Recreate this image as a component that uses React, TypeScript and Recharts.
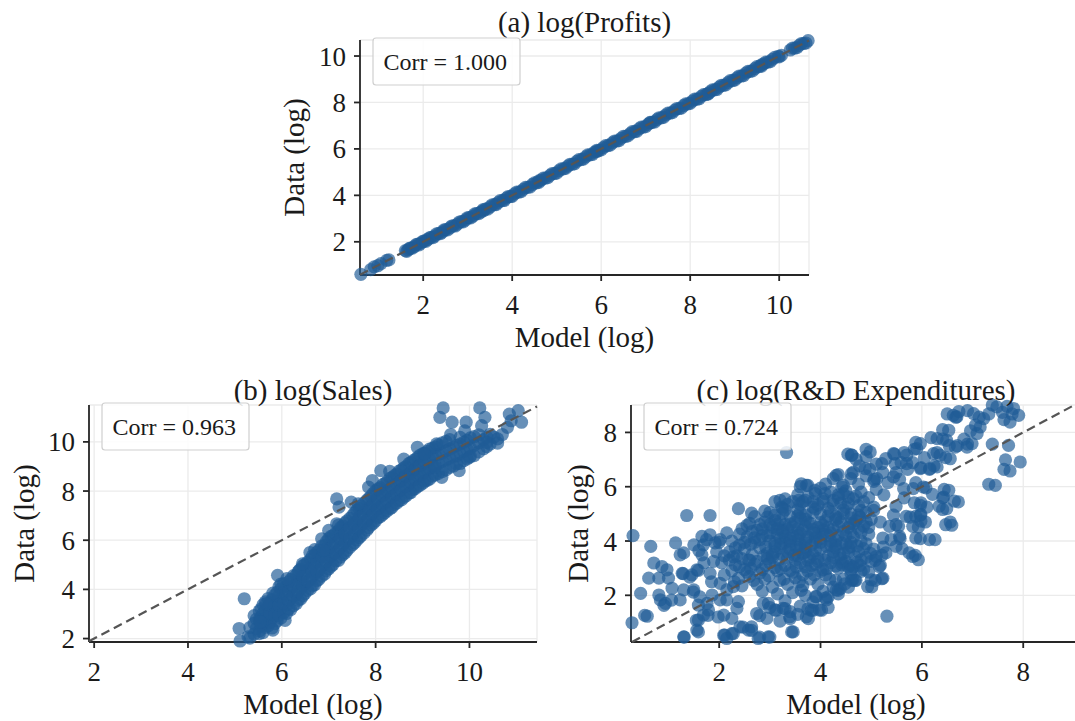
import { ScatterChart, Scatter, XAxis, YAxis, CartesianGrid } from 'recharts';

const FONT = "'Liberation Serif', 'Times New Roman', Times, serif";
const DOT = '#1f5b96';

// (a) log(Profits): model vs data, almost exactly on the 45 degree line
const profitsPoints: [number, number][] = [
  [0.6, 0.6], [0.82, 0.8], [0.9, 0.92], [0.98, 0.97], [1.05, 1.06], [1.18, 1.2], [1.23, 1.22],
  [1.6, 1.62], [1.66, 1.65], [1.72, 1.73], [1.8, 1.79], [1.88, 1.9], [1.95, 1.94], [2.03, 2.04],
  [2.1, 2.1], [2.18, 2.19], [2.26, 2.25], [2.35, 2.36], [2.43, 2.42], [2.5, 2.51], [2.6, 2.6],
  [2.68, 2.69], [2.77, 2.76], [2.86, 2.87], [2.95, 2.94], [3.03, 3.04], [3.12, 3.11], [3.2, 3.21],
  [3.3, 3.29], [3.4, 3.41], [3.5, 3.5], [3.6, 3.6], [3.68, 3.69], [3.78, 3.77], [3.87, 3.88],
  [3.96, 3.95], [4.05, 4.06], [4.15, 4.14], [4.25, 4.26], [4.35, 4.34], [4.45, 4.46], [4.55, 4.54],
  [4.65, 4.66], [4.75, 4.74], [4.85, 4.86], [4.95, 4.94], [5.05, 5.06], [5.15, 5.14], [5.25, 5.26],
  [5.35, 5.34], [5.45, 5.46], [5.55, 5.54], [5.65, 5.66], [5.75, 5.74], [5.85, 5.86], [5.95, 5.94],
  [6.05, 6.06], [6.15, 6.14], [6.25, 6.26], [6.35, 6.34], [6.45, 6.46], [6.55, 6.54], [6.65, 6.66],
  [6.75, 6.74], [6.85, 6.86], [6.95, 6.94], [7.05, 7.06], [7.15, 7.14], [7.25, 7.26], [7.35, 7.34],
  [7.45, 7.46], [7.55, 7.54], [7.65, 7.66], [7.75, 7.74], [7.85, 7.86], [7.95, 7.94], [8.05, 8.06],
  [8.15, 8.14], [8.25, 8.26], [8.35, 8.34], [8.45, 8.46], [8.55, 8.54], [8.65, 8.66], [8.75, 8.74],
  [8.85, 8.86], [8.95, 8.94], [9.05, 9.06], [9.15, 9.14], [9.25, 9.26], [9.35, 9.34], [9.45, 9.46],
  [9.55, 9.54], [9.65, 9.66], [9.75, 9.74], [9.85, 9.86], [9.98, 9.99], [10.05, 10.03],
  [10.25, 10.26], [10.35, 10.34], [10.45, 10.46], [10.55, 10.54], [10.65, 10.66],
  [2.14, 2.17], [3.35, 3.33], [4.6, 4.62], [5.9, 5.88], [7.1, 7.12], [8.4, 8.38], [9.6, 9.62],
  [1.63, 1.59], [1.69, 1.72], [1.76, 1.73], [1.84, 1.88], [1.91, 1.87], [1.99, 2.02], [2.06, 2.02],
  [2.22, 2.18], [2.3, 2.34], [2.39, 2.35], [2.47, 2.51], [2.55, 2.51], [2.64, 2.68], [2.72, 2.68],
  [2.81, 2.85], [2.9, 2.86], [2.99, 3.03], [3.07, 3.03], [3.16, 3.2], [3.25, 3.21], [3.35, 3.39],
  [3.45, 3.41], [3.55, 3.59], [3.64, 3.6], [3.73, 3.77], [3.82, 3.78], [3.91, 3.95], [4.0, 3.96],
  [4.1, 4.14], [4.2, 4.16], [4.3, 4.34], [4.4, 4.36], [4.5, 4.54], [4.6, 4.56], [4.7, 4.74],
  [4.8, 4.76], [4.9, 4.94], [5.0, 4.96], [5.1, 5.14], [5.2, 5.16], [5.3, 5.34], [5.4, 5.36],
  [5.5, 5.54], [5.6, 5.56], [5.7, 5.74], [5.8, 5.76], [5.9, 5.94], [6.0, 5.96], [6.1, 6.14],
  [6.2, 6.16], [6.3, 6.34], [6.4, 6.36], [6.5, 6.54], [6.6, 6.56], [6.7, 6.74], [6.8, 6.76],
  [6.9, 6.94], [7.0, 6.96], [7.1, 7.14], [7.2, 7.16], [7.3, 7.34], [7.4, 7.36], [7.5, 7.54],
  [7.6, 7.56], [7.7, 7.74], [7.8, 7.76], [7.9, 7.94], [8.0, 7.96], [8.1, 8.14], [8.2, 8.16],
  [8.3, 8.34], [8.4, 8.36], [8.5, 8.54], [8.6, 8.56], [8.7, 8.74], [8.8, 8.76], [8.9, 8.94],
  [9.0, 8.96], [9.1, 9.14], [9.2, 9.16], [9.3, 9.34], [9.4, 9.36], [9.5, 9.54], [9.6, 9.56],
  [9.7, 9.74], [9.8, 9.76], [9.9, 9.94], [10.0, 9.96], [10.3, 10.34], [10.4, 10.36],
  [10.5, 10.54], [10.6, 10.56],
];

// (b) log(Sales)
const salesPoints: [number, number][] = [
  [5.32, 2.02], [5.32, 2.45], [5.41, 2.18], [5.41, 2.62], [5.41, 2.93], [5.52, 2.31], [5.52, 2.77],
  [5.52, 3.12], [5.6, 2.24], [5.6, 2.63], [5.6, 3.02], [5.6, 3.38], [5.71, 2.52], [5.71, 2.88],
  [5.71, 3.33], [5.71, 3.63], [5.79, 2.43], [5.79, 2.83], [5.79, 3.17], [5.79, 3.57], [5.9, 2.72],
  [5.9, 3.08], [5.9, 3.52], [5.9, 3.88], [5.98, 2.83], [5.98, 3.22], [5.98, 3.61], [5.98, 4.02],
  [5.98, 4.22], [6.1, 3.02], [6.1, 3.37], [6.1, 3.76], [6.1, 4.13], [6.19, 3.18], [6.19, 3.62],
  [6.19, 4.03], [6.19, 4.41], [6.31, 3.42], [6.31, 3.79], [6.31, 4.22], [6.31, 4.58], [6.4, 3.61],
  [6.4, 4.02], [6.4, 4.38], [6.4, 4.82], [6.49, 3.83], [6.49, 4.21], [6.49, 4.62], [6.49, 5.01],
  [6.61, 4.02], [6.61, 4.41], [6.61, 4.79], [6.61, 5.22], [6.7, 4.19], [6.7, 4.62], [6.7, 5.03],
  [6.7, 5.38], [6.7, 5.62], [6.79, 4.41], [6.79, 4.78], [6.79, 5.21], [6.79, 5.59], [6.91, 4.62],
  [6.91, 5.02], [6.91, 5.41], [6.91, 5.78], [7.0, 4.84], [7.0, 5.26], [7.0, 5.63], [7.0, 6.07],
  [7.09, 5.01], [7.09, 5.42], [7.09, 5.81], [7.09, 6.19], [7.21, 5.18], [7.21, 5.61], [7.21, 6.02],
  [7.21, 6.38], [7.21, 6.62], [7.3, 5.42], [7.3, 5.79], [7.3, 6.21], [7.3, 6.58], [7.39, 5.59],
  [7.39, 6.02], [7.39, 6.41], [7.39, 6.79], [7.51, 5.82], [7.51, 6.19], [7.51, 6.62], [7.51, 7.01],
  [7.6, 6.01], [7.6, 6.42], [7.6, 6.79], [7.6, 7.22], [7.69, 6.18], [7.69, 6.61], [7.69, 7.02],
  [7.69, 7.39], [7.81, 6.41], [7.81, 6.79], [7.81, 7.21], [7.81, 7.62], [7.9, 6.62], [7.9, 7.01],
  [7.9, 7.38], [7.9, 7.79], [8.0, 6.79], [8.0, 7.22], [8.0, 7.61], [8.0, 8.02], [8.1, 6.96],
  [8.1, 7.34], [8.1, 7.77], [8.1, 8.14], [8.2, 7.12], [8.2, 7.51], [8.2, 7.89], [8.2, 8.31],
  [8.31, 7.29], [8.31, 7.71], [8.31, 8.09], [8.31, 8.52], [8.4, 7.46], [8.4, 7.84], [8.4, 8.26],
  [8.4, 8.63], [8.5, 7.61], [8.5, 8.02], [8.5, 8.39], [8.5, 8.81], [8.6, 7.74], [8.6, 8.16],
  [8.6, 8.57], [8.6, 8.94], [8.71, 7.91], [8.71, 8.29], [8.71, 8.71], [8.71, 9.12], [8.8, 8.06],
  [8.8, 8.47], [8.8, 8.84], [8.8, 9.24], [8.9, 8.19], [8.9, 8.61], [8.9, 9.02], [8.9, 9.38],
  [9.01, 8.32], [9.01, 8.69], [9.01, 9.11], [9.01, 9.52], [9.1, 8.44], [9.1, 8.86], [9.1, 9.24],
  [9.1, 9.61], [9.21, 8.61], [9.21, 9.02], [9.21, 9.41], [9.21, 9.74], [9.34, 8.72], [9.34, 9.12],
  [9.34, 9.49], [9.34, 9.88], [9.5, 8.86], [9.5, 9.26], [9.5, 9.64], [9.5, 10.02], [9.66, 9.02],
  [9.66, 9.41], [9.66, 9.79], [9.8, 9.12], [9.8, 9.52], [9.8, 9.91], [9.8, 10.18], [9.95, 9.31],
  [9.95, 9.69], [9.95, 10.06], [10.1, 9.44], [10.1, 9.86], [10.1, 10.21], [10.3, 9.72],
  [10.3, 10.09], [10.44, 9.91], [10.44, 10.31], [10.6, 10.12],
  // second pass over the dense band
  [5.46, 2.41], [5.46, 2.79], [5.56, 2.52], [5.56, 2.88], [5.56, 3.21], [5.65, 2.46], [5.65, 2.81],
  [5.65, 3.16], [5.65, 3.49], [5.75, 2.66], [5.75, 3.04], [5.75, 3.46], [5.85, 2.61], [5.85, 2.96],
  [5.85, 3.34], [5.85, 3.76], [5.94, 2.94], [5.94, 3.36], [5.94, 3.74], [5.94, 4.11], [6.04, 3.06],
  [6.04, 3.44], [6.04, 3.86], [6.04, 4.24], [6.15, 3.21], [6.15, 3.56], [6.15, 3.94], [6.15, 4.31],
  [6.25, 3.34], [6.25, 3.76], [6.25, 4.14], [6.25, 4.56], [6.35, 3.56], [6.35, 3.94], [6.35, 4.36],
  [6.35, 4.71], [6.45, 3.74], [6.45, 4.16], [6.45, 4.54], [6.45, 4.96], [6.55, 3.96], [6.55, 4.34],
  [6.55, 4.76], [6.55, 5.11], [6.65, 4.14], [6.65, 4.56], [6.65, 4.94], [6.65, 5.36], [6.75, 4.36],
  [6.75, 4.74], [6.75, 5.16], [6.75, 5.51], [6.85, 4.54], [6.85, 4.96], [6.85, 5.34], [6.85, 5.76],
  [6.95, 4.76], [6.95, 5.14], [6.95, 5.56], [6.95, 5.94], [7.05, 4.94], [7.05, 5.36], [7.05, 5.74],
  [7.05, 6.16], [7.15, 5.16], [7.15, 5.49], [7.15, 5.91], [7.15, 6.29], [7.25, 5.31], [7.25, 5.71],
  [7.25, 6.09], [7.25, 6.51], [7.35, 5.49], [7.35, 5.91], [7.35, 6.29], [7.35, 6.71], [7.45, 5.71],
  [7.45, 6.09], [7.45, 6.51], [7.45, 6.89], [7.55, 5.89], [7.55, 6.31], [7.55, 6.69], [7.55, 7.11],
  [7.65, 6.11], [7.65, 6.49], [7.65, 6.91], [7.65, 7.29], [7.75, 6.29], [7.75, 6.71], [7.75, 7.09],
  [7.75, 7.51], [7.85, 6.51], [7.85, 6.89], [7.85, 7.31], [7.85, 7.69], [7.95, 6.69], [7.95, 7.11],
  [7.95, 7.49], [7.95, 7.91], [8.05, 6.91], [8.05, 7.29], [8.05, 7.71], [8.05, 8.09], [8.15, 7.04],
  [8.15, 7.46], [8.15, 7.84], [8.15, 8.26], [8.25, 7.21], [8.25, 7.59], [8.25, 8.01], [8.25, 8.39],
  [8.35, 7.34], [8.35, 7.76], [8.35, 8.14], [8.35, 8.56], [8.45, 7.51], [8.45, 7.89], [8.45, 8.31],
  [8.45, 8.69], [8.55, 7.64], [8.55, 8.06], [8.55, 8.44], [8.55, 8.86], [8.65, 7.81], [8.65, 8.19],
  [8.65, 8.61], [8.65, 8.99], [8.75, 7.94], [8.75, 8.36], [8.75, 8.74], [8.75, 9.16], [8.85, 8.11],
  [8.85, 8.49], [8.85, 8.91], [8.85, 9.29], [8.95, 8.24], [8.95, 8.66], [8.95, 9.04], [8.95, 9.46],
  [9.05, 8.41], [9.05, 8.79], [9.05, 9.21], [9.05, 9.54], [9.15, 8.49], [9.15, 8.91], [9.15, 9.29],
  [9.15, 9.71], [9.27, 8.66], [9.27, 9.04], [9.27, 9.46], [9.27, 9.79], [9.42, 8.79], [9.42, 9.21],
  [9.42, 9.54], [9.42, 9.96], [9.58, 8.96], [9.58, 9.34], [9.58, 9.71], [9.58, 10.09], [9.73, 9.11],
  [9.73, 9.44], [9.73, 9.86], [9.88, 9.24], [9.88, 9.61], [9.88, 9.99], [10.02, 9.41], [10.02, 9.74],
  [10.02, 10.16], [10.2, 9.59], [10.2, 9.96], [10.2, 10.29], [10.37, 9.81], [10.37, 10.19],
  // scattered points around the band
  [5.11, 1.9], [5.28, 2.07], [5.09, 2.41], [5.2, 3.62], [5.52, 2.2], [5.54, 2.68], [5.67, 3.42],
  [5.81, 3.85], [5.91, 4.57], [5.81, 2.34], [6.07, 2.74], [6.11, 4.44], [6.37, 4.77], [6.44, 5.04],
  [6.85, 6.06], [6.89, 5.59], [7.17, 7.68], [7.22, 7.35], [7.17, 6.67], [7.48, 7.55], [7.63, 7.48],
  [7.85, 8.16], [8.11, 8.83], [7.93, 8.43], [8.89, 9.78], [9.04, 9.51], [9.3, 9.92], [9.37, 11.0],
  [9.44, 11.38], [9.63, 10.8], [9.93, 10.8], [10.22, 11.38], [10.33, 11.0], [10.26, 10.66],
  [10.52, 10.19], [10.37, 9.98], [10.81, 10.59], [10.89, 10.86], [11.04, 11.27], [11.11, 10.8],
  [10.85, 11.13], [10.0, 9.37], [9.78, 8.83], [9.41, 8.56], [9.26, 8.97], [10.6, 9.95],
  [10.7, 10.3], [9.9, 10.45], [9.6, 10.3], [8.6, 9.3], [8.3, 8.8], [7.0, 6.4], [6.6, 5.5],
];

// (c) log(R&D Expenditures)
const rndPoints: [number, number][] = [
  // upper right
  [7.39, 9.01], [7.68, 8.96], [7.59, 8.74], [7.78, 8.68], [7.32, 8.68], [6.9, 8.8], [6.73, 8.77],
  [6.5, 8.68], [6.67, 8.56], [7.13, 8.56], [7.62, 8.47], [7.06, 8.27], [6.96, 8.06], [6.41, 8.1],
  [6.18, 7.81], [6.41, 7.75], [6.83, 7.75], [6.9, 7.57], [7.39, 7.57], [6.7, 7.51], [6.54, 7.51],
  [6.3, 7.26], [6.47, 7.07], [6.05, 7.07], [7.65, 6.99], [7.62, 6.64], [7.32, 6.09],
  [6.62, 8.63], [6.69, 8.57], [7.02, 8.69], [7.22, 8.51], [7.48, 8.94], [7.81, 8.88], [7.91, 8.63],
  [7.74, 8.38], [7.15, 8.2], [7.09, 7.96], [6.99, 7.59], [6.89, 7.46], [6.53, 8.08], [6.3, 7.77],
  [6.49, 7.71], [6.66, 7.46], [5.97, 7.59], [5.9, 7.4], [6.23, 7.22], [6.36, 7.16], [6.56, 7.03],
  [7.71, 7.52], [7.94, 6.91], [7.74, 6.58], [7.45, 6.05],
  // middle right
  [5.88, 7.63], [5.85, 7.38], [5.65, 7.26], [5.46, 7.2], [5.29, 7.04], [5.59, 6.89], [5.82, 6.89],
  [5.98, 6.7], [6.15, 6.64], [6.24, 6.77], [5.72, 6.64], [5.49, 6.52], [5.23, 6.52], [5.1, 6.83],
  [4.9, 7.38], [4.9, 7.11], [4.7, 7.01], [4.54, 7.2], [4.77, 6.77], [4.97, 6.64], [5.06, 6.27],
  [5.33, 6.15], [5.56, 6.27], [5.88, 6.15], [6.08, 5.96], [6.21, 5.72], [6.41, 5.59], [6.44, 5.9],
  [6.64, 5.47], [6.34, 5.28], [6.41, 5.16], [6.47, 4.6], [6.15, 4.05], [5.88, 4.11], [5.82, 3.43],
  [5.75, 3.56], [5.98, 5.41], [5.85, 5.41], [5.98, 4.98], [5.88, 4.91], [5.82, 4.54], [5.98, 4.73],
  [5.69, 4.91], [5.65, 5.59], [5.49, 5.28], [5.49, 4.6], [5.56, 4.17], [5.49, 3.8], [5.36, 4.54],
  [5.39, 4.05], [5.23, 4.11], [5.29, 3.56], [5.1, 3.43], [5.0, 3.25], [5.16, 3.06], [5.23, 2.63],
  [5.0, 2.57], [4.93, 2.32], [4.8, 2.88], [4.64, 2.57], [4.44, 3.19], [4.31, 2.2],
  [4.62, 7.16], [4.98, 7.28], [5.44, 7.22], [5.7, 7.16], [5.21, 6.85], [5.47, 6.85], [5.7, 6.85],
  [5.97, 6.67], [6.16, 6.67], [6.3, 6.73], [4.65, 6.54], [4.88, 6.67], [5.11, 6.3], [5.44, 6.36],
  [5.64, 5.93], [5.83, 5.93], [6.03, 5.99], [6.53, 5.87], [6.43, 5.62], [6.72, 5.44], [6.49, 5.19],
  [5.97, 5.31], [6.1, 5.25], [5.77, 4.88], [5.97, 4.95], [5.44, 4.95], [5.05, 5.13], [4.78, 4.88],
  [6.56, 4.7], [4.45, 5.75], [4.59, 4.64], [5.18, 4.7], [5.54, 4.54], [5.93, 4.52], [6.07, 4.7],
  [6.59, 4.58], [5.97, 4.09], [6.26, 4.05], [5.57, 4.09], [5.61, 3.72], [5.24, 3.78], [5.87, 3.47],
  [5.93, 3.31], [5.21, 3.47], [5.18, 3.1], [5.08, 3.29], [4.78, 3.1], [4.59, 3.1], [4.95, 2.86],
  [5.21, 2.61], [5.08, 2.55], [4.68, 2.55], [5.01, 2.31], [4.39, 2.25], [5.31, 1.23],
  // lower middle
  [4.12, 1.83], [3.98, 1.46], [3.92, 1.95], [3.72, 1.21], [3.43, 0.65], [3.39, 1.21], [3.26, 1.52],
  [3.1, 1.46], [2.97, 1.7], [2.87, 1.7], [2.74, 1.33], [2.94, 1.15], [2.97, 0.47], [2.77, 0.41],
  [2.58, 0.72], [2.64, 0.84], [2.41, 0.84], [2.25, 0.59], [2.15, 0.41], [2.09, 0.53], [2.25, 1.15],
  [2.09, 1.27], [2.35, 1.52], [2.38, 1.77], [2.15, 1.83], [2.02, 1.83], [3.46, 0.65], [3.4, 1.14],
  [3.76, 1.14], [3.82, 1.45], [4.02, 1.45], [3.62, 2.18], [4.15, 1.94], [4.35, 2.18], [4.55, 3.04],
  [4.61, 2.55], [3.13, 1.45], [3.3, 1.51], [2.47, 0.83], [2.64, 0.71], [2.8, 0.46], [3.0, 0.46],
  [2.11, 0.53], [2.28, 0.59], [3.4, 1.4], [3.6, 1.6], [3.55, 1.3], [3.75, 1.5], [3.3, 1.8],
  [3.0, 1.55], [2.8, 1.25], [3.85, 1.75], [4.1, 1.9], [4.35, 2.05], [4.55, 2.3], [4.7, 2.55],
  [4.15, 1.55], [3.2, 1.05], [3.85, 1.45],
  // left side
  [1.86, 2.01], [1.76, 1.7], [1.79, 1.46], [1.69, 1.27], [1.59, 1.09], [1.56, 0.72], [1.3, 0.47],
  [1.59, 1.64], [1.5, 2.2], [1.3, 2.2], [1.23, 1.83], [1.07, 2.26], [0.94, 1.7], [0.84, 1.83],
  [0.81, 2.01], [0.58, 1.23], [0.28, 0.99], [0.45, 2.07], [0.61, 2.63], [0.81, 2.63], [0.71, 3.19],
  [0.87, 3.06], [0.97, 2.94], [1.0, 2.63], [1.27, 2.81], [1.3, 3.56], [1.14, 3.93], [1.23, 3.49],
  [1.46, 2.75], [1.5, 3.86], [1.56, 2.94], [1.66, 3.49], [1.69, 3.86], [1.66, 4.17], [1.82, 4.23],
  [1.92, 3.93], [2.02, 4.05], [1.89, 3.25], [1.82, 2.81], [2.02, 2.44], [2.15, 2.2], [2.28, 2.32],
  [0.3, 4.2], [0.65, 3.8], [1.36, 4.94], [1.82, 4.94], [2.38, 5.19], [2.64, 5.03], [3.33, 7.26],
  [0.53, 1.26], [0.91, 1.63], [1.06, 1.82], [1.29, 2.8], [1.42, 2.67], [1.59, 2.92], [1.49, 2.12],
  [1.62, 1.94], [1.55, 1.08], [1.59, 0.65], [1.31, 0.46], [1.78, 1.26], [1.98, 1.2],
  [1.95, 3.6], [2.05, 3.2], [2.1, 2.75], [1.7, 3.2], [1.85, 2.5], [2.15, 4.3], [2.0, 3.95],
  [1.75, 4.05], [1.6, 3.65], [2.1, 3.45],
  // upper middle
  [3.62, 6.11], [3.72, 6.05], [4.31, 6.42], [4.61, 7.16], [4.61, 6.48], [3.2, 5.5], [3.23, 5.25],
  [3.57, 5.5], [3.89, 5.87], [4.09, 5.75], [4.42, 5.99], [4.55, 5.62],
  // dense core
  [2.3, 2.5], [2.45, 2.35], [2.6, 2.7], [2.75, 2.4], [2.9, 2.6], [3.05, 2.3], [3.2, 2.55],
  [3.35, 2.4], [3.5, 2.65], [3.65, 2.35], [3.8, 2.6], [3.95, 2.4], [4.1, 2.75], [4.3, 2.55],
  [3.45, 2.1], [3.7, 2.0], [3.9, 1.95], [4.05, 2.15], [3.15, 2.05], [2.85, 2.15], [4.25, 2.3],
  [4.45, 2.6], [4.6, 2.8],
  [2.25, 2.9], [2.4, 3.05], [2.55, 2.85], [2.7, 3.15], [2.85, 2.95], [3.0, 3.2], [3.15, 2.9],
  [3.3, 3.1], [3.45, 2.85], [3.6, 3.2], [3.75, 2.9], [3.9, 3.15], [4.05, 2.95], [4.2, 3.2],
  [4.35, 3.0], [4.5, 3.25], [4.65, 3.05], [4.8, 3.3], [2.2, 3.3], [2.95, 3.35], [3.65, 2.75],
  [4.85, 2.95],
  [2.2, 3.6], [2.35, 3.45], [2.5, 3.7], [2.65, 3.5], [2.8, 3.75], [2.95, 3.55], [3.1, 3.8],
  [3.25, 3.5], [3.4, 3.7], [3.55, 3.45], [3.7, 3.75], [3.85, 3.5], [4.0, 3.7], [4.15, 3.45],
  [4.3, 3.75], [4.45, 3.55], [4.6, 3.8], [4.75, 3.6], [4.9, 3.4], [5.05, 3.7], [3.05, 3.4],
  [3.75, 3.3], [4.4, 3.35],
  [2.25, 4.0], [2.4, 3.85], [2.55, 4.15], [2.7, 3.95], [2.85, 4.2], [3.0, 4.0], [3.15, 4.25],
  [3.3, 3.95], [3.45, 4.2], [3.6, 3.9], [3.75, 4.15], [3.9, 3.95], [4.05, 4.25], [4.2, 4.0],
  [4.35, 4.2], [4.5, 3.9], [4.65, 4.15], [4.8, 4.0], [4.95, 4.25], [3.2, 4.1], [3.55, 4.05],
  [3.9, 4.3], [4.3, 3.85],
  [2.45, 4.45], [2.6, 4.65], [2.75, 4.4], [2.9, 4.7], [3.05, 4.5], [3.2, 4.75], [3.35, 4.45],
  [3.5, 4.7], [3.65, 4.4], [3.8, 4.65], [3.95, 4.5], [4.1, 4.75], [4.25, 4.45], [4.4, 4.7],
  [4.55, 4.5], [4.7, 4.75], [4.85, 4.55], [5.0, 4.8], [3.3, 4.6], [3.7, 4.55], [4.05, 4.4],
  [2.7, 4.9], [2.9, 5.1], [3.1, 4.95], [3.25, 5.2], [3.4, 4.9], [3.55, 5.15], [3.7, 4.95],
  [3.85, 5.25], [4.0, 5.0], [4.15, 5.2], [4.3, 4.9], [4.45, 5.15], [4.6, 5.0], [4.75, 5.3],
  [4.9, 5.05], [5.05, 5.25], [3.6, 5.35], [4.25, 5.35],
  [3.1, 5.45], [3.3, 5.55], [3.55, 5.7], [3.7, 5.5], [3.9, 5.75], [4.05, 5.55], [4.2, 5.8],
  [4.35, 5.6], [4.5, 5.85], [4.65, 5.55], [4.8, 5.8], [4.95, 5.6], [5.1, 5.9], [5.25, 5.7],
  [4.4, 5.4], [3.85, 5.45],
  [3.6, 6.0], [3.75, 6.05], [4.1, 6.1], [4.25, 6.3], [4.45, 6.05], [4.6, 6.3], [4.75, 6.1],
  [4.9, 6.4], [5.05, 6.2], [4.35, 6.45], [4.0, 5.95],
  // second pass over the core
  [2.38, 2.62], [2.68, 2.55], [2.98, 2.72], [3.28, 2.6], [3.58, 2.5], [3.88, 2.75], [4.18, 2.6],
  [4.48, 2.42], [2.32, 3.12], [2.62, 3.0], [2.92, 3.1], [3.22, 2.98], [3.52, 3.05], [3.82, 3.1],
  [4.12, 2.98], [4.42, 3.12], [4.72, 3.22], [2.28, 3.42], [2.58, 3.3], [2.88, 3.45], [3.18, 3.32],
  [3.48, 3.48], [3.78, 3.4], [4.08, 3.3], [4.38, 3.5], [4.68, 3.42], [4.98, 3.55], [2.32, 3.75],
  [2.62, 3.88], [2.92, 3.78], [3.22, 3.9], [3.52, 3.78], [3.82, 3.85], [4.12, 3.8], [4.42, 3.92],
  [4.72, 3.82], [2.4, 4.25], [2.7, 4.12], [3.0, 4.3], [3.3, 4.18], [3.6, 4.28], [3.9, 4.12],
  [4.2, 4.3], [4.5, 4.2], [4.8, 4.32], [2.55, 4.58], [2.85, 4.45], [3.15, 4.62], [3.45, 4.52],
  [3.75, 4.7], [4.05, 4.58], [4.35, 4.55], [4.65, 4.62], [4.95, 4.5], [2.95, 4.88], [3.25, 5.02],
  [3.55, 4.92], [3.85, 5.05], [4.15, 4.92], [4.45, 5.02], [4.75, 4.95], [3.35, 5.35], [3.65, 5.45],
  [3.95, 5.32], [4.25, 5.5], [4.55, 5.38], [4.85, 5.45], [3.1, 3.6], [3.4, 3.85], [3.7, 3.6],
  [4.0, 3.95], [3.25, 4.4], [3.55, 4.45], [3.85, 4.3], [4.15, 4.5], [3.4, 4.0], [3.7, 4.05],
  [3.5, 3.3], [3.95, 3.35], [4.25, 3.6], [4.55, 3.75], [3.0, 4.6], [3.2, 3.75], [3.6, 4.85],
  [4.35, 4.85],
  // third pass over the darkest part
  [2.5, 2.95], [2.8, 2.82], [3.1, 3.02], [3.4, 2.92], [3.7, 3.05], [4.0, 2.88], [4.3, 3.08],
  [4.6, 2.95], [2.45, 3.35], [2.75, 3.25], [3.05, 3.5], [3.35, 3.38], [3.65, 3.55], [3.95, 3.25],
  [4.25, 3.4], [4.55, 3.58], [4.85, 3.72], [2.5, 3.95], [2.8, 4.05], [3.1, 3.92], [3.4, 4.1],
  [3.7, 3.92], [4.0, 4.1], [4.3, 4.02], [4.6, 3.95], [4.9, 3.9], [2.65, 4.35], [2.95, 4.2],
  [3.25, 4.32], [3.55, 4.2], [3.85, 4.42], [4.15, 4.2], [4.45, 4.35], [4.75, 4.45], [2.8, 4.6],
  [3.1, 4.75], [3.4, 4.62], [3.7, 4.8], [4.0, 4.68], [4.3, 4.78], [4.6, 4.85], [4.9, 4.7],
  [3.0, 5.05], [3.3, 5.15], [3.6, 5.05], [3.9, 5.18], [4.2, 5.08], [4.5, 5.25], [4.8, 5.12],
  [3.45, 5.45], [3.75, 5.62], [4.05, 5.45], [4.35, 5.7], [4.7, 5.65], [2.6, 3.3], [3.9, 3.65],
  [4.2, 3.85], [3.35, 3.6], [3.6, 3.7], [3.15, 4.45], [4.6, 4.3],
];

const profitsTicks = [2, 4, 6, 8, 10];
const salesTicks = [2, 4, 6, 8, 10];
const rndTicks = [2, 4, 6, 8];

const titles = ['(a) log(Profits)', '(b) log(Sales)', '(c) log(R&D Expenditures)'];
const corrValues = ['1.000', '0.963', '0.724'];

type Box = { left: number; top: number; right: number; bottom: number };

type PanelCfg = {
  points: [number, number][];
  ticks: number[];
  xDomain: [number, number];
  yDomain: [number, number];
  plot: Box;
  yLabelX: number;
  title: string;
  corr: string;
  titleY: number;
};

const panels: PanelCfg[] = [
  {
    points: profitsPoints,
    ticks: profitsTicks,
    xDomain: [0.58, 10.67],
    yDomain: [0.57, 10.69],
    plot: { left: 360, top: 40, right: 809, bottom: 275 },
    yLabelX: 294,
    title: titles[0],
    corr: corrValues[0],
    titleY: 32,
  },
  {
    points: salesPoints,
    ticks: salesTicks,
    xDomain: [1.89, 11.44],
    yDomain: [1.86, 11.5],
    plot: { left: 89, top: 405, right: 537, bottom: 642 },
    yLabelX: 24,
    title: titles[1],
    corr: corrValues[1],
    titleY: 400,
  },
  {
    points: rndPoints,
    ticks: rndTicks,
    xDomain: [0.26, 9.14],
    yDomain: [0.28, 9.0],
    plot: { left: 631, top: 405, right: 1081, bottom: 642 },
    yLabelX: 578,
    title: titles[2],
    corr: corrValues[2],
    titleY: 400,
  },
];

const Y_AXIS_W = 100;
const X_AXIS_H = 85;
const TOP_PAD = 10;
const RIGHT_PAD = 10;

const renderDot = (p: any) => (
  <circle cx={p.cx} cy={p.cy} r={6.6} fill={DOT} fillOpacity={0.68} />
);
const renderNothing = () => <g />;

// tick text drawn by hand so the serif font is used
function AxisTick(props: any) {
  const { x, y, payload, textAnchor, verticalAnchor } = props;
  const dy = verticalAnchor === 'start' ? '0.71em' : '0.355em';
  return (
    <text
      x={x}
      y={y}
      dy={dy}
      textAnchor={textAnchor}
      fontSize={27}
      fill="#1a1a1a"
      style={{ fontFamily: FONT }}
    >
      {payload.value}
    </text>
  );
}

function Panel({ cfg }: { cfg: PanelCfg }) {
  const { plot } = cfg;
  const chartLeft = plot.left - Y_AXIS_W;
  const chartTop = plot.top - TOP_PAD;
  const width = plot.right - chartLeft + RIGHT_PAD;
  const height = plot.bottom - chartTop + X_AXIS_H;
  const rows = cfg.points.map(([x, y]) => ({ x, y }));
  const lo = Math.max(cfg.xDomain[0], cfg.yDomain[0]);
  const hi = Math.min(cfg.xDomain[1], cfg.yDomain[1]);
  const diag = [{ x: lo, y: lo }, { x: hi, y: hi }];
  const axisStroke = { stroke: '#262626', strokeWidth: 1.8 };

  return (
    <div style={{ position: 'absolute', left: chartLeft, top: chartTop }}>
      <ScatterChart
        width={width}
        height={height}
        margin={{ top: TOP_PAD, right: RIGHT_PAD, bottom: 0, left: 0 }}
      >
        <CartesianGrid stroke="#ebebeb" strokeWidth={1.3} />
        <XAxis
          type="number"
          dataKey="x"
          domain={cfg.xDomain}
          ticks={cfg.ticks}
          height={X_AXIS_H}
          axisLine={axisStroke}
          tickLine={axisStroke}
          tickSize={6}
          tickMargin={14}
          tick={<AxisTick />}
          label={{
            value: 'Model (log)',
            position: 'insideBottom',
            offset: 13,
            style: { fontSize: 29, fill: '#1a1a1a', fontFamily: FONT },
          }}
        />
        <YAxis
          type="number"
          dataKey="y"
          domain={cfg.yDomain}
          ticks={cfg.ticks}
          width={Y_AXIS_W}
          axisLine={axisStroke}
          tickLine={axisStroke}
          tickSize={6}
          tickMargin={8}
          tick={<AxisTick />}
          label={{
            value: 'Data (log)',
            angle: -90,
            position: 'insideLeft',
            offset: cfg.yLabelX - chartLeft,
            style: { fontSize: 29, fill: '#1a1a1a', fontFamily: FONT, textAnchor: 'middle' },
          }}
        />
        <Scatter data={rows} shape={renderDot} isAnimationActive={false} />
        <Scatter
          data={diag}
          shape={renderNothing}
          line={{ stroke: '#555555', strokeWidth: 2.2, strokeDasharray: '9 5' }}
          isAnimationActive={false}
        />
      </ScatterChart>
    </div>
  );
}

export default function App() {
  return (
    <div
      style={{
        position: 'absolute',
        left: 0,
        top: 0,
        width: 1075,
        height: 721,
        overflow: 'hidden',
        background: '#ffffff',
        fontFamily: FONT,
      }}
    >
      {panels.map((cfg) => (
        <Panel key={cfg.title} cfg={cfg} />
      ))}
      <svg
        width={1075}
        height={721}
        style={{ position: 'absolute', left: 0, top: 0, pointerEvents: 'none' }}
      >
        {panels.map((cfg) => {
          const cx = (cfg.plot.left + cfg.plot.right) / 2;
          const bx = cfg.plot.left + 13;
          const by = cfg.plot.top - 2;
          return (
            <g key={cfg.title}>
              <text
                x={cx}
                y={cfg.titleY}
                textAnchor="middle"
                fontSize={29}
                fill="#1a1a1a"
                fontFamily={FONT}
              >
                {cfg.title}
              </text>
              <rect
                x={bx}
                y={by}
                width={147}
                height={47}
                rx={3}
                fill="#ffffff"
                fillOpacity={0.85}
                stroke="#cfcfcf"
                strokeWidth={1.2}
              />
              <text x={bx + 10.5} y={by + 32} fontSize={24} fill="#1a1a1a" fontFamily={FONT}>
                {`Corr = ${cfg.corr}`}
              </text>
            </g>
          );
        })}
      </svg>
    </div>
  );
}
